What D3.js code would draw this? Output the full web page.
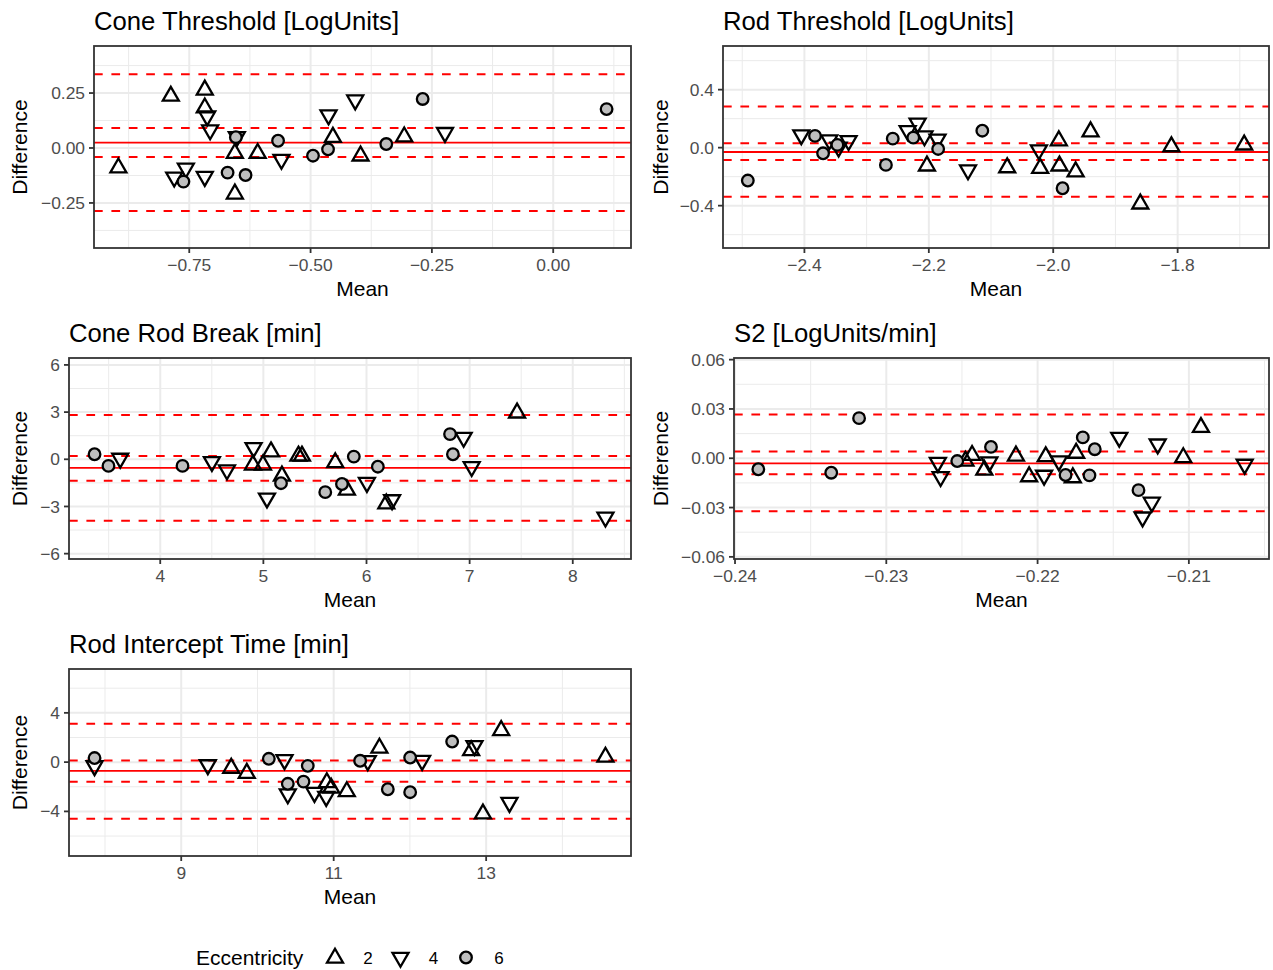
<!DOCTYPE html>
<html lang="en">
<head>
<meta charset="UTF-8">
<title>Bland-Altman panels</title>
<script src="https://d3js.org/d3.v7.min.js"></script>
<style>
  body { margin: 0; background: #fff; }
  svg { display: block; font-family: "Liberation Sans", Arial, sans-serif; }
</style>
</head>
<body>
<div id="chart"></div>
<script>
// eccentricity groups (10 subjects each)
const ecc = [2,2,2,2,2,2,2,2,2,2, 4,4,4,4,4,4,4,4,4,4, 6,6,6,6,6,6,6,6,6,6];

// Cone Threshold [LogUnits]
const coneThrMean = [-0.896,-0.788,-0.718,-0.718,-0.656,-0.656,-0.609,-0.454,-0.397,-0.307,
                     -0.713,-0.707,-0.757,-0.781,-0.718,-0.652,-0.560,-0.463,-0.408,-0.223,
                     -0.762,-0.671,-0.634,-0.654,-0.567,-0.495,-0.464,-0.269,-0.344,0.110];
const coneThrDiff = [-0.090,0.236,0.264,0.183,-0.209,-0.024,-0.024,0.049,-0.036,0.051,
                     0.145,0.082,-0.092,-0.133,-0.130,0.051,-0.052,0.150,0.218,0.070,
                     -0.153,-0.112,-0.123,0.049,0.033,-0.035,-0.006,0.223,0.018,0.177];
const coneThrBias = 0.024;
const coneThrLimits = [0.336, 0.091, -0.041, -0.287];

// Rod Threshold [LogUnits]
const rodThrMean = [-2.203,-2.074,-2.021,-1.991,-1.990,-1.964,-1.940,-1.860,-1.810,-1.693,
                    -2.405,-2.360,-2.345,-2.329,-2.234,-2.218,-2.207,-2.186,-2.137,-2.023,
                    -2.491,-2.383,-2.370,-2.347,-2.269,-2.258,-2.225,-2.185,-2.114,-1.985];
const rodThrDiff = [-0.126,-0.138,-0.142,0.048,-0.126,-0.166,0.110,-0.388,0.007,0.019,
                    0.088,0.053,0.003,0.048,0.117,0.168,0.081,0.058,-0.154,-0.016,
                    -0.227,0.081,-0.039,0.019,-0.119,0.062,0.069,-0.009,0.117,-0.280];
const rodThrBias = -0.030;
const rodThrLimits = [0.283, 0.030, -0.085, -0.338];

// Cone Rod Break [min]
const coneRodMean = [4.899,5.074,4.996,5.180,5.340,5.374,5.697,5.810,6.192,7.460,
                     3.612,4.501,4.647,4.905,5.035,6.004,6.248,6.942,7.020,8.317,
                     3.363,3.498,4.216,5.171,5.600,5.762,5.877,6.110,6.810,6.838];
const coneRodDiff = [-0.36,0.48,-0.36,-1.06,0.21,0.21,-0.21,-1.95,-2.83,2.95,
                     0.06,-0.15,-0.68,0.74,-2.47,-1.48,-2.58,1.39,-0.47,-3.68,
                     0.32,-0.42,-0.42,-1.52,-2.09,-1.57,0.17,-0.47,1.60,0.32];
const coneRodBias = -0.55;
const coneRodLimits = [2.81, 0.21, -1.36, -3.91];

// S2 [LogUnits/min]
const s2Mean = [-0.22477,-0.22433,-0.22352,-0.22143,-0.22056,-0.21946,-0.21767,-0.21745,-0.21037,-0.20920,
                -0.22659,-0.22641,-0.22319,-0.21957,-0.21859,-0.21460,-0.21245,-0.21306,-0.21206,-0.20631,
                -0.23846,-0.23364,-0.23180,-0.22531,-0.22308,-0.21815,-0.21701,-0.21622,-0.21657,-0.21333];
const s2Diff = [-0.0017,0.0018,-0.0072,0.0014,-0.0112,0.0010,-0.0118,0.0031,0.0004,0.0188,
                -0.0026,-0.0112,-0.0023,-0.0104,-0.0017,0.0127,-0.0268,-0.0358,0.0086,-0.0037,
                -0.0067,-0.0088,0.0244,-0.0017,0.0069,-0.0102,0.0127,0.0055,-0.0104,-0.0194];
const s2Bias = -0.0031;
const s2Limits = [0.0266, 0.0041, -0.0098, -0.0323];

// Rod Intercept Time [min]
const rodIntMean = [9.656,9.860,10.910,10.967,11.172,11.600,12.803,13.197,12.958,14.565,
                    7.863,9.349,10.355,10.398,10.748,10.902,11.447,12.160,12.847,13.306,
                    7.863,10.149,10.660,10.398,10.604,11.347,11.710,12.003,12.003,12.554];
const rodIntDiff = [-0.49,-0.90,-1.66,-2.11,-2.39,1.14,0.94,2.57,-4.20,0.41,
                    -0.30,-0.22,0.19,-2.58,-2.47,-2.80,0.11,0.13,1.33,-3.28,
                    0.33,0.27,-0.30,-1.76,-1.58,0.11,-2.20,0.37,-2.44,1.67];
const rodIntBias = -0.71;
const rodIntLimits = [3.11, 0.13, -1.60, -4.59];

const legendLevels = [2, 4, 6];

const panels = [
  { title: "Cone Threshold [LogUnits]", mean: coneThrMean, diff: coneThrDiff, bias: coneThrBias, limits: coneThrLimits,
    yDomain: [-0.455, 0.464], xTicks: [-0.75, -0.5, -0.25, 0], yTicks: [-0.25, 0, 0.25], fx: ".2f", fy: ".2f",
    box: { left: 94, right: 631, top: 46, bottom: 248 }, ylabX: 20 },
  { title: "Rod Threshold [LogUnits]", mean: rodThrMean, diff: rodThrDiff, bias: rodThrBias, limits: rodThrLimits,
    yDomain: [-0.692, 0.701], xTicks: [-2.4, -2.2, -2.0, -1.8], yTicks: [-0.4, 0, 0.4], fx: ".1f", fy: ".1f",
    box: { left: 723, right: 1269, top: 46, bottom: 248 }, ylabX: 661 },
  { title: "Cone Rod Break [min]", mean: coneRodMean, diff: coneRodDiff, bias: coneRodBias, limits: coneRodLimits,
    yDomain: [-6.34, 6.44], xTicks: [4, 5, 6, 7, 8], yTicks: [-6, -3, 0, 3, 6], fx: "d", fy: "d",
    box: { left: 69, right: 631, top: 358, bottom: 559 }, ylabX: 20 },
  { title: "S2 [LogUnits/min]", mean: s2Mean, diff: s2Diff, bias: s2Bias, limits: s2Limits,
    yDomain: [-0.0613, 0.061], xTicks: [-0.24, -0.23, -0.22, -0.21], yTicks: [-0.06, -0.03, 0, 0.03, 0.06], fx: ".2f", fy: ".2f",
    box: { left: 734, right: 1269, top: 358, bottom: 559 }, ylabX: 661 },
  { title: "Rod Intercept Time [min]", mean: rodIntMean, diff: rodIntDiff, bias: rodIntBias, limits: rodIntLimits,
    yDomain: [-7.62, 7.56], xTicks: [9, 11, 13], yTicks: [-4, 0, 4], fx: "d", fy: "d",
    box: { left: 69, right: 631, top: 669, bottom: 856 }, ylabX: 20 }
];

const width = 1273, height = 970;
const svg = d3.select("#chart").append("svg").attr("width", width).attr("height", height);

const triUp = "M0,-9.3L8,4.6L-8,4.6Z";
const triDown = "M0,9.3L8,-4.6L-8,-4.6Z";

function drawMarker(g, e, x, y) {
  if (e === 6) {
    g.append("circle").attr("cx", x).attr("cy", y).attr("r", 5.8)
      .attr("fill", "#bebebe").attr("stroke", "#000").attr("stroke-width", 2.3);
  } else {
    g.append("path").attr("d", e === 2 ? triUp : triDown)
      .attr("transform", `translate(${x},${y})`)
      .attr("fill", "none").attr("stroke", "#000").attr("stroke-width", 2.3)
      .attr("stroke-linejoin", "miter");
  }
}

// minor breaks: midpoints between majors, plus one step outside
function minorBreaks(ticks, domain) {
  const step = ticks[1] - ticks[0];
  const out = [];
  for (let i = -1; i < ticks.length; i++) out.push(ticks[0] + (i + 0.5) * step);
  return out.filter(v => v >= domain[0] && v <= domain[1]);
}

panels.forEach(p => {
  const b = p.box;
  const ext = d3.extent(p.mean);
  const pad = (ext[1] - ext[0]) * 0.05;
  const x = d3.scaleLinear().domain([ext[0] - pad, ext[1] + pad]).range([b.left, b.right]);
  const y = d3.scaleLinear().domain(p.yDomain).range([b.bottom, b.top]);
  const g = svg.append("g");

  // grid
  const grid = g.append("g");
  minorBreaks(p.xTicks, x.domain()).forEach(v =>
    grid.append("line").attr("x1", x(v)).attr("x2", x(v)).attr("y1", b.top).attr("y2", b.bottom)
      .attr("stroke", "#ebebeb").attr("stroke-width", 1));
  minorBreaks(p.yTicks, y.domain()).forEach(v =>
    grid.append("line").attr("y1", y(v)).attr("y2", y(v)).attr("x1", b.left).attr("x2", b.right)
      .attr("stroke", "#ebebeb").attr("stroke-width", 1));
  p.xTicks.forEach(v =>
    grid.append("line").attr("x1", x(v)).attr("x2", x(v)).attr("y1", b.top).attr("y2", b.bottom)
      .attr("stroke", "#ebebeb").attr("stroke-width", 2));
  p.yTicks.forEach(v =>
    grid.append("line").attr("y1", y(v)).attr("y2", y(v)).attr("x1", b.left).attr("x2", b.right)
      .attr("stroke", "#ebebeb").attr("stroke-width", 2));

  // bias and limits
  p.limits.forEach(v =>
    g.append("line").attr("x1", b.left).attr("x2", b.right).attr("y1", y(v)).attr("y2", y(v))
      .attr("stroke", "#ff0000").attr("stroke-width", 2).attr("stroke-dasharray", "8.7,8.7"));
  g.append("line").attr("x1", b.left).attr("x2", b.right).attr("y1", y(p.bias)).attr("y2", y(p.bias))
    .attr("stroke", "#ff0000").attr("stroke-width", 1.8);

  // points
  const pts = g.append("g");
  p.mean.forEach((m, i) => drawMarker(pts, ecc[i], x(m), y(p.diff[i])));

  // border
  g.append("rect").attr("x", b.left).attr("y", b.top)
    .attr("width", b.right - b.left).attr("height", b.bottom - b.top)
    .attr("fill", "none").attr("stroke", "#333333").attr("stroke-width", 1.8);

  // axes
  const fx = d3.format(p.fx), fy = d3.format(p.fy);
  p.xTicks.forEach(v => {
    g.append("line").attr("x1", x(v)).attr("x2", x(v)).attr("y1", b.bottom).attr("y2", b.bottom + 5)
      .attr("stroke", "#333333").attr("stroke-width", 1.8);
    g.append("text").attr("x", x(v)).attr("y", b.bottom + 23).attr("text-anchor", "middle")
      .attr("font-size", 17.4).attr("fill", "#4d4d4d").text(fx(v));
  });
  p.yTicks.forEach(v => {
    g.append("line").attr("x1", b.left - 5).attr("x2", b.left).attr("y1", y(v)).attr("y2", y(v))
      .attr("stroke", "#333333").attr("stroke-width", 1.8);
    g.append("text").attr("x", b.left - 9).attr("y", y(v)).attr("dy", "0.35em").attr("text-anchor", "end")
      .attr("font-size", 17.4).attr("fill", "#4d4d4d").text(fy(v));
  });

  g.append("text").attr("x", (b.left + b.right) / 2).attr("y", b.bottom + 48)
    .attr("text-anchor", "middle").attr("font-size", 21).attr("fill", "#000").text("Mean");
  g.append("text").attr("transform", `translate(${p.ylabX + 7},${(b.top + b.bottom) / 2}) rotate(-90)`)
    .attr("text-anchor", "middle").attr("font-size", 21).attr("fill", "#000").text("Difference");
  g.append("text").attr("x", b.left).attr("y", b.top - 16)
    .attr("font-size", 25.7).attr("fill", "#000").text(p.title);
});

// legend
const leg = svg.append("g");
leg.append("text").attr("x", 196).attr("y", 965).attr("font-size", 21).text("Eccentricity");
const legX = d3.scalePoint().domain(legendLevels).range([335, 466]);
legendLevels.forEach(l => {
  drawMarker(leg, l, legX(l), l === 2 ? 958 : 957.5);
  leg.append("text").attr("x", legX(l) + 33).attr("y", 964).attr("text-anchor", "middle")
    .attr("font-size", 17).attr("fill", "#000").text(l);
});
</script>
</body>
</html>
